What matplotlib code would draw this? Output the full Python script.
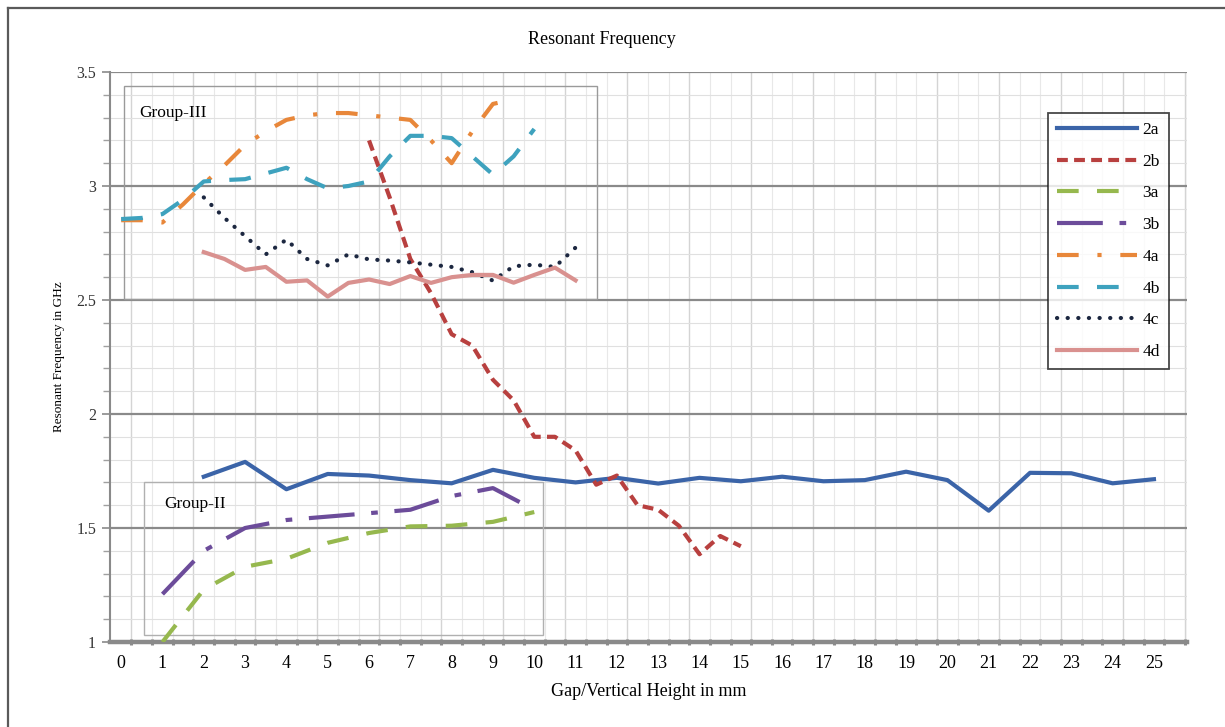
import matplotlib
matplotlib.use("Agg")
import matplotlib.pyplot as plt
from matplotlib.patches import Rectangle
from matplotlib.lines import Line2D

plt.rcParams['font.family'] = ['Liberation Serif', 'DejaVu Serif']

# ---- data -------------------------------------------------------------
gap_int = [2, 3, 4, 5, 6, 7, 8, 9, 10, 11, 12, 13, 14, 15, 16, 17, 18, 19,
           20, 21, 22, 23, 24, 25]
freq_2a = [1.725, 1.79, 1.67, 1.737, 1.73, 1.71, 1.696, 1.755, 1.72, 1.70,
           1.72, 1.695, 1.72, 1.705, 1.725, 1.705, 1.71, 1.747, 1.71, 1.576,
           1.742, 1.74, 1.696, 1.714]

gap_2b = [6, 6.5, 7, 7.5, 8, 8.5, 9, 9.5, 10, 10.5, 11, 11.5, 12, 12.5, 13,
          13.5, 14, 14.5, 15]
freq_2b = [3.2, 2.95, 2.68, 2.53, 2.35, 2.30, 2.15, 2.06, 1.90, 1.90, 1.84,
           1.69, 1.73, 1.60, 1.58, 1.51, 1.385, 1.465, 1.42]

gap_grp2 = [1, 2, 3, 4, 5, 6, 7, 8, 9, 10]
freq_3a = [1.0, 1.23, 1.33, 1.365, 1.435, 1.478, 1.507, 1.51, 1.527, 1.57]
freq_3b = [1.21, 1.40, 1.50, 1.535, 1.55, 1.565, 1.58, 1.64, 1.675, 1.58]

gap_4a = [0, 0.5, 1, 1.5, 2, 2.5, 3, 3.5, 4, 4.5, 5, 5.5, 6, 6.5, 7, 7.5, 8,
          8.5, 9, 9.5]
freq_4a = [2.85, 2.85, 2.84, 2.92, 3.01, 3.09, 3.18, 3.24, 3.29, 3.31, 3.32,
           3.32, 3.31, 3.30, 3.29, 3.20, 3.10, 3.24, 3.36, 3.38]

gap_4b = [0, 0.5, 1, 1.5, 2, 2.5, 3, 3.5, 4, 4.5, 5, 5.5, 6, 6.5, 7, 7.5, 8,
          8.5, 9, 9.5, 10]
freq_4b = [2.855, 2.86, 2.877, 2.94, 3.02, 3.026, 3.03, 3.055, 3.08, 3.03,
           2.99, 3.0, 3.02, 3.13, 3.22, 3.22, 3.21, 3.13, 3.05, 3.13, 3.25]

gap_4cd = [2, 2.5, 3, 3.5, 4, 4.5, 5, 5.5, 6, 6.5, 7, 7.5, 8, 8.5, 9, 9.5,
           10, 10.5, 11]
freq_4c = [2.95, 2.86, 2.78, 2.70, 2.765, 2.68, 2.652, 2.70, 2.678, 2.673,
           2.665, 2.655, 2.645, 2.622, 2.585, 2.648, 2.655, 2.645, 2.73]
freq_4d = [2.71, 2.68, 2.632, 2.645, 2.58, 2.586, 2.515, 2.575, 2.59, 2.57,
           2.605, 2.575, 2.60, 2.61, 2.61, 2.576, 2.61, 2.642, 2.586]

x_tick_labels = [str(v) for v in range(0, 26)]
y_ticks = [1, 1.5, 2, 2.5, 3, 3.5]
y_tick_labels = ['1', '1.5', '2', '2.5', '3', '3.5']

# ---- figure -----------------------------------------------------------
W, H = 1225, 727
fig = plt.figure(figsize=(W / 100, H / 100), dpi=100)
ax = fig.add_axes([110 / W, 1 - 642 / H, (1187 - 110) / W, (642 - 72) / H])
ax.set_xlim(-0.27, 25.8)
ax.set_ylim(1.0, 3.5)

# chart-area frame (left and top edges)
fig.add_artist(Line2D([8 / W, 8 / W], [0.0, 1 - 8 / H],
                      transform=fig.transFigure, color='#5a5a5a', lw=1.6))
fig.add_artist(Line2D([8 / W, 1.0], [1 - 8 / H, 1 - 8 / H],
                      transform=fig.transFigure, color='#5a5a5a', lw=1.6))

# grid
for k in range(52):
    gx = 0.25 + 0.5 * k
    dark = (k % 3 == 0)
    ax.axvline(gx, color='#d4d4d4' if dark else '#e8e8e8',
               lw=1.0 if dark else 0.8, zorder=0)
for k in range(1, 25):
    gy = 1 + 0.1 * k
    if k % 5:
        ax.axhline(gy, color='#e0e0e0', lw=0.8, zorder=0)
for gy in [1.5, 2, 2.5, 3, 3.5]:
    ax.axhline(gy, color='#8a8a8a', lw=1.6, zorder=0.5)

# group boxes
ax.add_patch(Rectangle((0.07, 2.505), 11.46, 0.935, fill=False,
                       edgecolor='#9a9a9a', lw=1.0, zorder=1))
ax.add_patch(Rectangle((0.55, 1.03), 9.65, 0.67, fill=False,
                       edgecolor='#b0b0b0', lw=1.0, zorder=1))
ax.text(0.45, 3.32, 'Group-III', fontsize=12.5, va='center', ha='left', zorder=2)
ax.text(1.05, 1.605, 'Group-II', fontsize=12.5, va='center', ha='left', zorder=2)

# series
LW = 3.0
series = [
    (gap_int, freq_2a, '2a', '#3B64A8', '-', 'butt'),
    (gap_2b, freq_2b, '2b', '#B8403F', (0, (2.6, 1.5)), 'butt'),
    (gap_grp2, freq_3a, '3a', '#96B84E', (0, (5.2, 4.4)), 'butt'),
    (gap_grp2, freq_3b, '3b', '#6C4C9A', (0, (11, 4, 1.6, 4)), 'butt'),
    (gap_4a, freq_4a, '4a', '#E8873A', (0, (5.2, 4.5, 1.0, 4.5)), 'butt'),
    (gap_4b, freq_4b, '4b', '#3EA2BE', (0, (5.2, 4.4)), 'butt'),
    (gap_4cd, freq_4c, '4c', '#1C2740', (0, (0.05, 2.5)), 'round'),
    (gap_4cd, freq_4d, '4d', '#D9918F', '-', 'butt'),
]
for xs, ys, name, col, ls, cap in series:
    ax.plot(xs, ys, color=col, lw=LW, linestyle=ls, label=name,
            dash_capstyle=cap, solid_joinstyle='round', zorder=3)

leg = ax.legend(loc='upper left', bbox_to_anchor=((1048 - 110) / (1187 - 110),
                                                   1 - (113 - 72) / (642 - 72)),
                frameon=True, fancybox=False, fontsize=12.5, handlelength=4.6,
                handletextpad=0.35, labelspacing=0.9, borderpad=0.5,
                borderaxespad=0.0)
leg.get_frame().set_edgecolor('#1a1a1a')
leg.get_frame().set_linewidth(1.3)
leg.set_zorder(5)

# axes styling
for side in ['top', 'right']:
    ax.spines[side].set_visible(False)
ax.spines['left'].set_color('#8a8a8a')
ax.spines['left'].set_linewidth(1.5)
ax.spines['bottom'].set_color('#8a8a8a')
ax.spines['bottom'].set_linewidth(3.2)
ax.plot([25.8, 25.8], [1.0, 3.5], color='#d8d8d8', lw=1.0, zorder=0)

ax.set_xticks(range(0, 26))
ax.set_xticklabels(x_tick_labels, fontsize=13)
ax.tick_params(axis='x', length=0, pad=9)
ax.set_xticks([0.25 + 0.5 * k for k in range(52)], minor=True)
ax.tick_params(axis='x', which='minor', length=4, width=2.2, color='#8a8a8a',
               direction='inout')
ax.set_yticks(y_ticks)
ax.set_yticklabels(y_tick_labels, fontsize=11.5, color='#333333')
ax.set_yticks([1 + 0.1 * k for k in range(26)], minor=True)
ax.tick_params(axis='y', which='major', length=6, width=1.2, color='#8a8a8a',
               pad=4)
ax.tick_params(axis='y', which='minor', length=5, width=1.0, color='#a0a0a0')

ax.set_xlabel('Gap/Vertical Height in mm', fontsize=13, labelpad=8)
ax.set_ylabel('Resonant Frequency in GHz', fontsize=9.5, labelpad=8)
fig.text(602 / W, 1 - 40 / H, 'Resonant Frequency', fontsize=13,
         ha='center', va='center')

fig.savefig('out.png', dpi=100)
